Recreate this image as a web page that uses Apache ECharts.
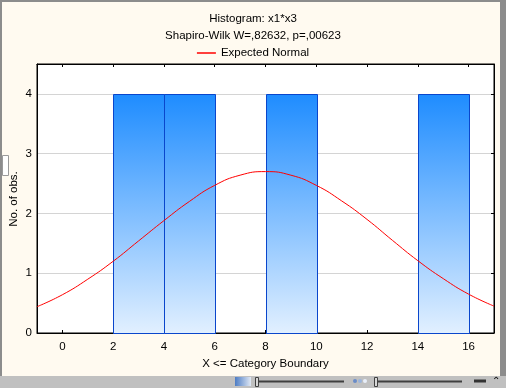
<!DOCTYPE html>
<html><head><meta charset="utf-8">
<script src="https://cdn.jsdelivr.net/npm/echarts@6/dist/echarts.min.js"></script>
<style>html,body{margin:0;padding:0;background:#FFFAF0;}#c{width:506px;height:388px;}</style>
</head><body><div id="c"></div>
<script>
// Histogram bins (lower, upper boundary) and counts
const binLower = [0, 2, 4, 6, 8, 10, 12, 14];
const binUpper = [2, 4, 6, 8, 10, 12, 14, 16];
const counts   = [0, 4, 4, 0, 4, 0, 0, 4];
// Expected normal curve
const curveX = [-1, 0, 1, 2, 3, 4, 5, 6, 7, 8, 9, 10, 11, 12, 13, 14, 15, 16, 17];
const curveY = [0.44, 0.64, 0.90, 1.20, 1.54, 1.88, 2.20, 2.47, 2.64, 2.70, 2.64, 2.47, 2.21, 1.90, 1.55, 1.21, 0.91, 0.65, 0.45];
const xTicks = [0, 2, 4, 6, 8, 10, 12, 14, 16];
const titleText = 'Histogram: x1*x3';
const subText = 'Shapiro-Wilk W=,82632, p=,00623';
const yName = 'No. of obs.';

const font = 'Arial, "Liberation Sans", sans-serif';
const chart = echarts.init(document.getElementById('c'), null, {renderer: 'canvas'});
const barData = binLower.map((l, i) => [l, binUpper[i], counts[i]]).filter(d => d[2] > 0);
const lineData = curveX.map((x, i) => [x, curveY[i]]);
const txt = {fontSize: 11.5, color: '#000', fontFamily: font};

chart.setOption({
  backgroundColor: '#FFFAF0',
  animation: false,
  title: [
    {text: titleText, left: 'center', top: 8, textStyle: Object.assign({fontWeight: 'normal'}, txt)},
    {text: subText, left: 'center', top: 25, textStyle: Object.assign({fontWeight: 'normal'}, txt)}
  ],
  legend: {
    data: [{name: 'Expected Normal', icon: 'rect'}],
    left: 'center', top: 42, itemWidth: 19, itemHeight: 1.5, itemGap: 4,
    textStyle: txt
  },
  grid: {left: 37, right: 12, top: 64, bottom: 55, show: true, backgroundColor: '#FFFFFF', borderColor: '#000', borderWidth: 1, outerBoundsMode: 'none', containLabel: false},
  xAxis: [{
    type: 'value', min: -1, max: 17,
    name: 'X <= Category Boundary', nameLocation: 'middle', nameGap: 25,
    nameTextStyle: txt,
    axisLine: {show: true, onZero: false, lineStyle: {color: '#000', width: 1}},
    axisTick: {show: true, inside: true, length: 3, customValues: xTicks, lineStyle: {color: '#000'}},
    axisLabel: Object.assign({customValues: xTicks, margin: 8}, txt),
    splitLine: {show: false}
  }, {
    type: 'value', min: -1, max: 17, position: 'top',
    axisLine: {show: true, onZero: false, lineStyle: {color: '#000', width: 1}},
    axisTick: {show: true, inside: true, length: 3, customValues: xTicks, lineStyle: {color: '#000'}},
    axisLabel: {show: false}, splitLine: {show: false}
  }],
  yAxis: [{
    type: 'value', min: 0, max: 4.5, interval: 1,
    axisLine: {show: true, onZero: false, lineStyle: {color: '#000', width: 1}},
    axisTick: {show: false},
    axisLabel: Object.assign({margin: 5, showMaxLabel: false}, txt),
    splitLine: {show: true, lineStyle: {color: '#D4D4D4', width: 1}}
  }, {
    type: 'value', min: 0, max: 4.5, interval: 1, position: 'right',
    axisLine: {show: true, onZero: false, lineStyle: {color: '#000', width: 1}},
    axisTick: {show: true, inside: true, length: 3, lineStyle: {color: '#000'}},
    axisLabel: {show: false}, splitLine: {show: false}
  }],
  series: [{
    type: 'custom',
    name: 'Histogram',
    data: barData,
    encode: {x: [0, 1], y: 2},
    renderItem: function (params, api) {
      const p0 = api.coord([api.value(0), api.value(2)]);
      const p1 = api.coord([api.value(1), 0]);
      return {
        type: 'rect',
        shape: {x: Math.round(p0[0]) + 0.5, y: Math.round(p0[1]) + 0.5, width: Math.round(p1[0] - p0[0]), height: Math.round(p1[1] - p0[1])},
        style: {
          fill: new echarts.graphic.LinearGradient(0, 0, 0, 1, [
            {offset: 0, color: '#1E8CFF'}, {offset: 1, color: '#E2F0FF'}
          ]),
          stroke: '#0A46CC', lineWidth: 1
        }
      };
    },
    z: 2
  }, {
    type: 'line', name: 'Expected Normal', data: lineData,
    smooth: true, showSymbol: false, symbol: 'none',
    lineStyle: {color: '#FF0000', width: 1}, itemStyle: {color: '#FF0000'}, z: 3
  }],
  graphic: [
    {type: 'text', x: 14, y: 199, rotation: Math.PI / 2, style: {text: yName, fill: '#000', font: '11.5px ' + font, align: 'center', verticalAlign: 'middle'}, silent: true},
    {type: 'rect', left: 0, top: 0, shape: {width: 506, height: 2}, style: {fill: '#8C8C8C'}, silent: true},
    {type: 'rect', left: 0, top: 0, shape: {width: 2, height: 388}, style: {fill: '#8C8C8C'}, silent: true},
    {type: 'rect', left: 500, top: 0, shape: {width: 6, height: 388}, style: {fill: '#8C8C8C'}, silent: true},
    {type: 'rect', left: 0, top: 376, shape: {width: 506, height: 12}, style: {fill: '#C0C0C0'}, silent: true},
    {type: 'rect', left: 2, top: 155, shape: {width: 6, height: 20}, style: {fill: '#FFFFFF', stroke: '#9A9A9A', lineWidth: 1}, silent: true},
    {type: 'rect', left: 235, top: 377, shape: {width: 16, height: 9}, style: {fill: new echarts.graphic.LinearGradient(0, 0, 1, 0, [{offset: 0, color: '#4C7CC4'}, {offset: 1, color: '#E0E8F4'}])}, silent: true},
    {type: 'line', shape: {x1: 258, y1: 381.5, x2: 344, y2: 381.5}, style: {stroke: '#404040', lineWidth: 2}, silent: true},
    {type: 'rect', left: 255, top: 377, shape: {width: 3, height: 9}, style: {fill: '#D8D8D8', stroke: '#404040', lineWidth: 1}, silent: true},
    {type: 'line', shape: {x1: 377, y1: 381.5, x2: 462, y2: 381.5}, style: {stroke: '#404040', lineWidth: 2}, silent: true},
    {type: 'rect', left: 374, top: 377, shape: {width: 3, height: 9}, style: {fill: '#D8D8D8', stroke: '#404040', lineWidth: 1}, silent: true},
    {type: 'circle', shape: {cx: 355, cy: 381, r: 2}, style: {fill: '#6A8CC8'}, silent: true},
    {type: 'circle', shape: {cx: 360, cy: 381, r: 2}, style: {fill: '#9AB4DC'}, silent: true},
    {type: 'circle', shape: {cx: 365, cy: 381, r: 2}, style: {fill: '#E8EEF8'}, silent: true},
    {type: 'line', shape: {x1: 474, y1: 381, x2: 486, y2: 381}, style: {stroke: '#333', lineWidth: 3}, silent: true},
    {type: 'text', left: 492, top: 376, style: {text: '⌃', fill: '#000', font: '10px sans-serif'}, silent: true}
  ]
});
</script></body></html>
